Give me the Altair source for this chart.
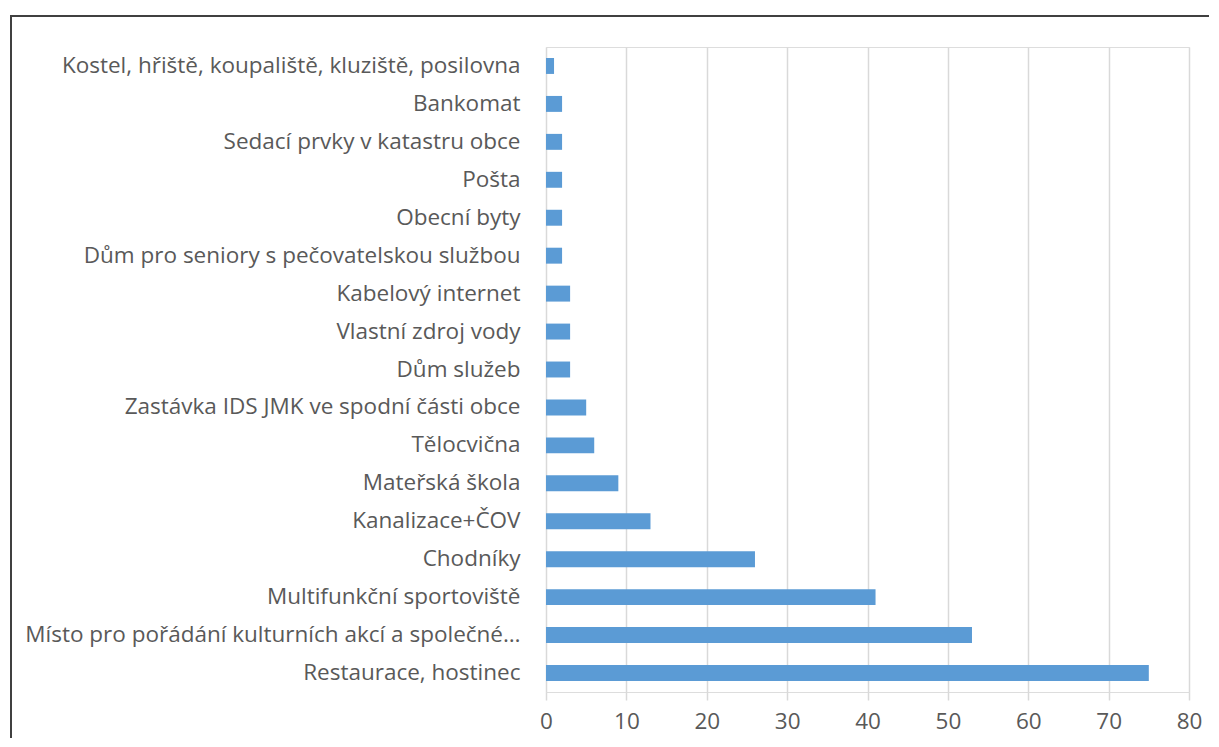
import altair as alt
import pandas as pd

categories = [
    "Kostel, hřiště, koupaliště, kluziště, posilovna",
    "Bankomat",
    "Sedací prvky v katastru obce",
    "Pošta",
    "Obecní byty",
    "Dům pro seniory s pečovatelskou službou",
    "Kabelový internet",
    "Vlastní zdroj vody",
    "Dům služeb",
    "Zastávka IDS JMK ve spodní části obce",
    "Tělocvična",
    "Mateřská škola",
    "Kanalizace+ČOV",
    "Chodníky",
    "Multifunkční sportoviště",
    "Místo pro pořádání kulturních akcí a společné…",
    "Restaurace, hostinec",
]
values = [1, 2, 2, 2, 2, 2, 3, 3, 3, 5, 6, 9, 13, 26, 41, 53, 75]
x_ticks = [0, 10, 20, 30, 40, 50, 60, 70, 80]

df = pd.DataFrame({"cat": categories, "val": values})

FONT = "Open Sans"
FS = 22.5

bars = alt.Chart(df).mark_bar(color="#5B9BD5").encode(
    x=alt.X(
        "val:Q",
        scale=alt.Scale(domain=[0, 80], nice=False),
        axis=alt.Axis(
            values=x_ticks,
            title=None,
            domain=False,
            grid=True,
            gridColor="#D9D9D9",
            gridWidth=1.5,
            ticks=True,
            tickSize=8,
            tickColor="#D9D9D9",
            tickWidth=1.5,
            labelFont=FONT,
            labelFontSize=FS,
            labelColor="#595959",
            labelPadding=10,
            labelFlush=False,
        ),
    ),
    y=alt.Y(
        "cat:N",
        sort=categories,
        scale=alt.Scale(paddingInner=0.58, paddingOuter=0.29),
        axis=alt.Axis(
            title=None,
            domain=False,
            ticks=False,
            labelFont=FONT,
            labelFontSize=FS,
            labelColor="#595959",
            labelPadding=26,
            labelLimit=600,
        ),
    ),
)

frame = alt.Chart(df).mark_rect(
    fill=None, stroke="#404040", strokeWidth=2, clip=False
).encode(
    x=alt.value(-535),
    x2=alt.value(720),
    y=alt.value(-31),
    y2=alt.value(740),
)

chart = alt.layer(bars, frame).properties(
    width=643,
    height=645,
    autosize=alt.AutoSizeParams(type="none"),
    padding={"left": 538, "top": 39, "right": 20, "bottom": 46},
).configure_view(stroke=None).configure(background="white")

chart.save("out.html", embed_options={"renderer": "svg", "actions": False})
